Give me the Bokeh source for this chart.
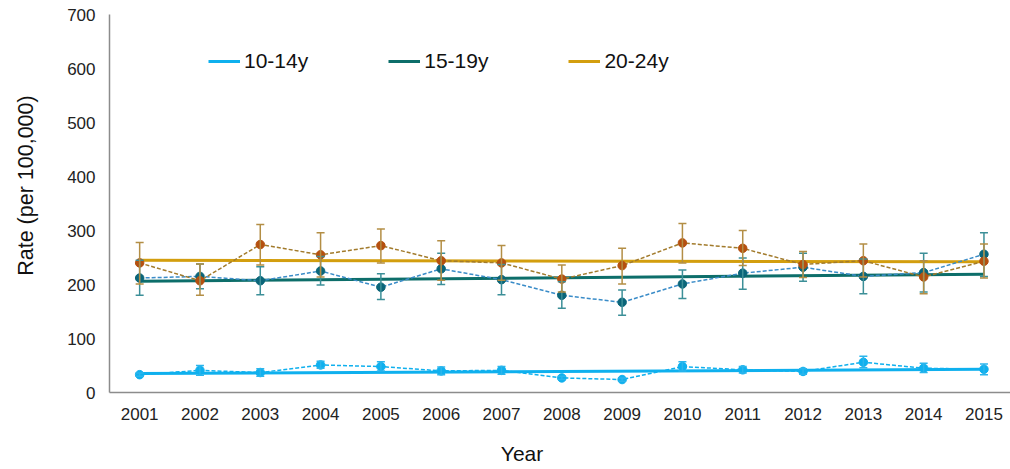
from bokeh.plotting import figure
from bokeh.models import (ColumnDataSource, Whisker, TeeHead, Legend,
                          LegendItem, FixedTicker, Range1d)
from bokeh.embed import file_html
from bokeh.resources import INLINE

# ---------------- data ----------------
years = [2001, 2002, 2003, 2004, 2005, 2006, 2007, 2008,
         2009, 2010, 2011, 2012, 2013, 2014, 2015]

rate_10_14 = [33, 41, 37, 51, 48, 40, 41, 27, 24, 48, 42, 39, 56, 45, 43]
lo_10_14 = [30, 32, 30, 45, 40, 33, 34, 24, 21, 40, 36, 34, 46, 37, 33]
hi_10_14 = [36, 50, 44, 58, 57, 47, 48, 30, 27, 57, 48, 44, 67, 54, 53]

rate_15_19 = [212, 215, 207, 225, 195, 229, 209, 180, 167, 201, 221, 232, 215, 222, 256]
lo_15_19 = [180, 192, 181, 199, 172, 200, 181, 156, 143, 174, 191, 206, 183, 186, 215]
hi_15_19 = [245, 238, 233, 252, 220, 258, 237, 205, 190, 227, 249, 258, 247, 258, 296]

rate_20_24 = [240, 207, 274, 255, 272, 244, 240, 210, 235, 277, 267, 237, 244, 214, 243]
lo_20_24 = [201, 180, 236, 214, 240, 208, 208, 186, 201, 240, 235, 213, 214, 183, 212]
hi_20_24 = [278, 238, 311, 296, 303, 281, 272, 236, 267, 313, 300, 261, 275, 244, 275]

trend_years = [2001, 2015]
trend_10_14 = [35, 43]
trend_15_19 = [206, 219]
trend_20_24 = [245, 242]

series_names = ["10-14y", "15-19y", "20-24y"]
y_ticks = [0, 100, 200, 300, 400, 500, 600, 700]
x_title = "Year"
y_title = "Rate (per 100,000)"

FONT = "Liberation Sans"
TXT = "#222222"
NBSP = "\u00a0"

p = figure(width=1010, height=469, output_backend="svg", toolbar_location=None,
           x_range=Range1d(2000.5, 2015.44), y_range=Range1d(0, 700),
           min_border_left=109, min_border_right=0, min_border_top=14,
           min_border_bottom=77)
p.outline_line_color = None
p.grid.visible = False
p.background_fill_color = "white"
p.border_fill_color = "white"

for ax in (p.xaxis[0], p.yaxis[0]):
    ax.major_tick_line_color = None
    ax.minor_tick_line_color = None
    ax.axis_line_color = "#8c8c8c"
    ax.axis_line_width = 1.5
    ax.major_label_text_font = FONT
    ax.major_label_text_font_size = "17px"
    ax.major_label_text_color = TXT
    ax.axis_label_text_font = FONT
    ax.axis_label_text_font_style = "normal"
    ax.axis_label_text_color = "#111111"

# no-break space padding shifts the centred titles to where the reference has them
p.xaxis[0].ticker = FixedTicker(ticks=years)
p.xaxis[0].major_label_standoff = 9
p.xaxis[0].axis_label = x_title + NBSP * 13
p.xaxis[0].axis_label_standoff = 19
p.xaxis[0].axis_label_text_font_size = "21px"

p.yaxis[0].ticker = FixedTicker(ticks=y_ticks)
p.yaxis[0].major_label_standoff = 8
p.yaxis[0].axis_label = NBSP * 6 + y_title
p.yaxis[0].axis_label_standoff = 26
p.yaxis[0].axis_label_text_font_size = "21.5px"

series = [
    dict(r=rate_10_14, lo=lo_10_14, hi=hi_10_14, t=trend_10_14,
         dot="#0FB0EE", dash="#0FB0EE", err="#2BB5EC", trend="#0FB0EE"),
    dict(r=rate_15_19, lo=lo_15_19, hi=hi_15_19, t=trend_15_19,
         dot="#0A6579", dash="#3A8CC8", err="#3C8F98", trend="#0D6E6A"),
    dict(r=rate_20_24, lo=lo_20_24, hi=hi_20_24, t=trend_20_24,
         dot="#B5500F", dash="#A27B2C", err="#B38E45", trend="#D39E0E"),
]

trend_renderers = []
for s in series:
    tr = p.line(trend_years, s["t"], line_color=s["trend"], line_width=3)
    trend_renderers.append(tr)

for s in series:
    src = ColumnDataSource(dict(x=years, y=s["r"], lo=s["lo"], hi=s["hi"]))
    w = Whisker(source=src, base="x", upper="hi", lower="lo",
                line_color=s["err"], line_width=1.5, level="glyph",
                upper_head=TeeHead(size=8, line_color=s["err"], line_width=1.5),
                lower_head=TeeHead(size=8, line_color=s["err"], line_width=1.5))
    p.add_layout(w)
    p.line("x", "y", source=src, line_color=s["dash"], line_width=1.5,
           line_dash="4 2")
    p.scatter("x", "y", source=src, size=8.5, marker="circle",
              fill_color=s["dot"], line_color=s["dot"])

legend = Legend(items=[LegendItem(label=n, renderers=[r])
                       for n, r in zip(series_names, trend_renderers)],
                orientation="horizontal", location=(99, 319),
                glyph_width=32, glyph_height=24, label_height=24,
                label_standoff=4, spacing=80, padding=0, margin=0,
                border_line_alpha=0, background_fill_alpha=0,
                label_text_font=FONT, label_text_font_size="21px",
                label_text_color="#111111")
p.add_layout(legend)

open("out.html", "w").write(file_html(p, INLINE))
